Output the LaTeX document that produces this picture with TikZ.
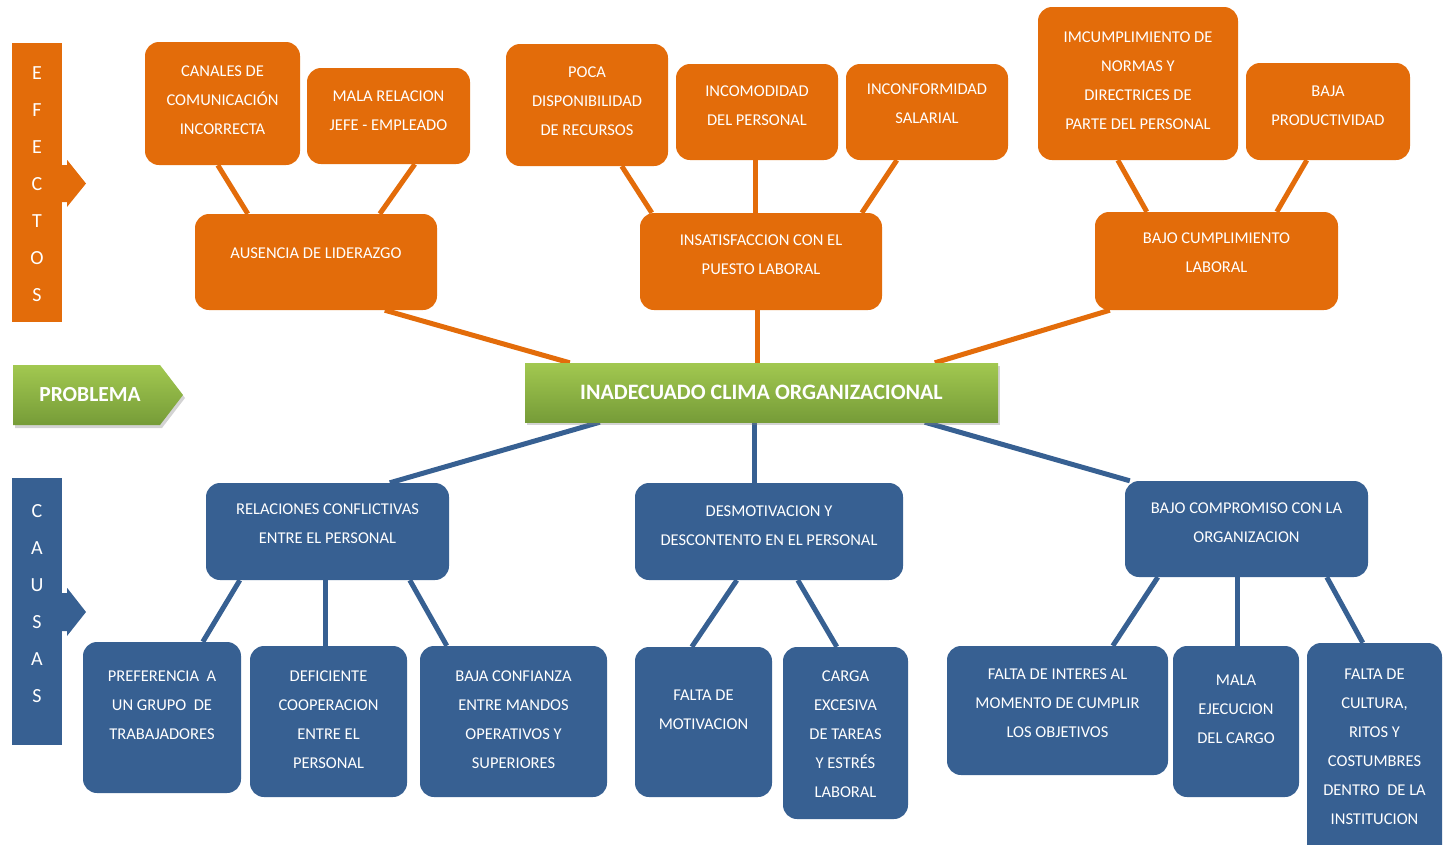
\documentclass[tikz,border=0pt]{standalone}
\usepackage{fontspec}
\setmainfont{Carlito}
\usetikzlibrary{calc,shadows}
\definecolor{orgc}{HTML}{E36C0A}
\definecolor{bluc}{HTML}{376092}
\definecolor{gtop}{HTML}{A2C850}
\definecolor{gbot}{HTML}{769C38}
\pgfdeclarelayer{bg}
\pgfsetlayers{bg,main}

% box from (x1,y1) to (x2,y2) with its text centred at height ytext
\newcommand\mapbox[8]{%
  \node[#6, minimum width={#4-#2}, minimum height={#5-#3}] (#1) at ({(#2+#4)/2},{(#3+#5)/2}) {};
  \node[lbl] (#1-txt) at ({(#2+#4)/2},#7) {#8};}

\tikzset{
  obox/.style={fill=orgc, rounded corners=14pt, inner sep=0pt, draw=none},
  bbox/.style={fill=bluc, rounded corners=14pt, inner sep=0pt, draw=none},
  lbl/.style={text=white, align=center, inner sep=0pt, font=\fontsize{16.5}{29}\selectfont},
  oline/.style={draw=orgc, line width=5pt},
  bline/.style={draw=bluc, line width=5pt},
  sidelbl/.style={text=white, align=center, inner sep=0pt, font=\fontsize{20}{37}\selectfont},
}

\begin{document}
\begin{tikzpicture}[x=1pt,y=-1pt]
\useasboundingbox (0,0) rectangle (1443,844);
\clip (0,0) rectangle (1443,844);

% side bars
\node[fill=orgc, minimum width=50, minimum height=279, inner sep=0pt] (efectos) at (37,182.5) {};
\node[sidelbl] (efectos-txt) at (37,184.5) {E\\F\\E\\C\\T\\O\\S};
\fill[orgc] (efectos.east |- 0,165) -- ++(5,0) -- ++(0,-5) -- (86,183.5) -- (67,207) -- ++(0,-5) -- (efectos.east |- 0,202) -- cycle;

\node[fill=bluc, minimum width=50, minimum height=267, inner sep=0pt] (causas) at (37,611.5) {};
\node[sidelbl] (causas-txt) at (37,604) {C\\A\\U\\S\\A\\S};
\fill[bluc] (causas.east |- 0,593) -- ++(5,0) -- ++(0,-5) -- (86,612) -- (67,636) -- ++(0,-5) -- (causas.east |- 0,631) -- cycle;

% problem arrow
\shade[top color=gtop, bottom color=gbot, drop shadow={opacity=0.35, shadow xshift=2pt, shadow yshift=-3pt}]
  (13,365) -- (160,365) -- (183,395) -- (160,425) -- (13,425) -- cycle;
\node[text=white, inner sep=0pt, font=\fontsize{21.5}{26}\bfseries] (problema) at (90,395) {PROBLEMA};

% central problem
\node[top color=gtop, bottom color=gbot, minimum width=473, minimum height=59, inner sep=0pt,
      drop shadow={opacity=0.35, shadow xshift=2pt, shadow yshift=-3pt},
      text=white, font=\fontsize{22}{26}\bfseries] (centro) at (761.5,392.5) {INADECUADO CLIMA ORGANIZACIONAL};

% effects
\mapbox{b1}{145}{42}{300}{165}{obox}{100}{CANALES DE\\COMUNICACIÓN\\INCORRECTA}
\mapbox{b2}{307}{68}{470}{164}{obox}{110.5}{MALA RELACION\\JEFE - EMPLEADO}
\mapbox{b3}{506}{44}{668}{166}{obox}{101.5}{POCA\\DISPONIBILIDAD\\DE RECURSOS}
\mapbox{b4}{676}{64}{838}{160}{obox}{106}{INCOMODIDAD\\DEL PERSONAL}
\mapbox{b5}{846}{64}{1008}{160}{obox}{104}{INCONFORMIDAD\\SALARIAL}
\mapbox{b6}{1038}{7}{1238}{160}{obox}{81}{IMCUMPLIMIENTO DE\\NORMAS Y\\DIRECTRICES DE\\PARTE DEL PERSONAL}
\mapbox{b7}{1246}{63}{1410}{160}{obox}{106}{BAJA\\PRODUCTIVIDAD}
\mapbox{ea}{195}{214}{437}{310}{obox}{253}{AUSENCIA DE LIDERAZGO}
\mapbox{eb}{640}{213}{882}{310}{obox}{255}{INSATISFACCION CON EL\\PUESTO LABORAL}
\mapbox{ec}{1095}{212}{1338}{310}{obox}{253}{BAJO CUMPLIMIENTO\\LABORAL}

% causes
\mapbox{cd}{206}{483}{449}{580}{bbox}{523.5}{RELACIONES CONFLICTIVAS\\ENTRE EL PERSONAL}
\mapbox{ce}{635}{483}{903}{580}{bbox}{525.5}{DESMOTIVACION Y\\DESCONTENTO EN EL PERSONAL}
\mapbox{cf}{1125}{481}{1368}{577}{bbox}{523}{BAJO COMPROMISO CON LA\\ORGANIZACION}
\mapbox{cg}{83}{642}{241}{793}{bbox}{705}{PREFERENCIA\ \ A\\UN GRUPO\ \ DE\\TRABAJADORES}
\mapbox{ch}{250}{646}{407}{797}{bbox}{720}{DEFICIENTE\\COOPERACION\\ENTRE EL\\PERSONAL}
\mapbox{ci}{420}{646}{607}{797}{bbox}{720}{BAJA CONFIANZA\\ENTRE MANDOS\\OPERATIVOS Y\\SUPERIORES}
\mapbox{cj}{635}{647}{772}{797}{bbox}{709.5}{FALTA DE\\MOTIVACION}
\mapbox{ck}{783}{647}{908}{819}{bbox}{734.5}{CARGA\\EXCESIVA\\DE TAREAS\\Y ESTRÉS\\LABORAL}
\mapbox{cl}{947}{646}{1168}{775}{bbox}{703.5}{FALTA DE INTERES AL\\MOMENTO DE CUMPLIR\\LOS OBJETIVOS}
\mapbox{cm}{1173}{646}{1299}{797}{bbox}{709.5}{MALA\\EJECUCION\\DEL CARGO}
\mapbox{cn}{1307}{643}{1442}{870}{bbox}{746.5}{FALTA DE\\CULTURA,\\RITOS Y\\COSTUMBRES\\DENTRO\ \ DE LA\\INSTITUCION}

% connectors
\begin{pgfonlayer}{bg}
\draw[oline] ($(b1.south west)+(73,0)$) -- ($(ea.north west)+(53,0)$);
\draw[oline] ($(b2.south west)+(108,0)$) -- ($(ea.north west)+(185,0)$);
\draw[oline] ($(b3.south west)+(116,0)$) -- ($(eb.north west)+(12,0)$);
\draw[oline] ($(b4.south west)+(80,0)$) -- ($(eb.north west)+(116,0)$);
\draw[oline] ($(b5.south west)+(51,0)$) -- ($(eb.north west)+(222,0)$);
\draw[oline] ($(b6.south west)+(80,0)$) -- ($(ec.north west)+(52,0)$);
\draw[oline] ($(b7.south west)+(61,0)$) -- ($(ec.north west)+(182,0)$);
\draw[oline] ($(ea.south west)+(190,0)$) -- ($(centro.north west)+(45,0)$);
\draw[oline] ($(eb.south west)+(118,0)$) -- ($(centro.north west)+(233,0)$);
\draw[oline] ($(ec.south west)+(15,0)$) -- ($(centro.north west)+(410,0)$);

\draw[bline] ($(centro.south west)+(75,0)$) -- ($(cd.north west)+(184,0)$);
\draw[bline] ($(centro.south west)+(230,0)$) -- ($(ce.north west)+(120,0)$);
\draw[bline] ($(centro.south west)+(400,0)$) -- ($(cf.north west)+(5,0)$);
\draw[bline] ($(cd.south west)+(34,0)$) -- ($(cg.north west)+(120,0)$);
\draw[bline] ($(cd.south west)+(120,0)$) -- ($(ch.north west)+(76,0)$);
\draw[bline] ($(cd.south west)+(204,0)$) -- ($(ci.north west)+(27,0)$);
\draw[bline] ($(ce.south west)+(102,0)$) -- ($(cj.north west)+(57,0)$);
\draw[bline] ($(ce.south west)+(163,0)$) -- ($(ck.north west)+(54,0)$);
\draw[bline] ($(cf.south west)+(33,0)$) -- ($(cl.north west)+(166,0)$);
\draw[bline] ($(cf.south west)+(113,0)$) -- ($(cm.north west)+(65,0)$);
\draw[bline] ($(cf.south west)+(202,0)$) -- ($(cn.north west)+(56,0)$);
\end{pgfonlayer}
\end{tikzpicture}
\end{document}
